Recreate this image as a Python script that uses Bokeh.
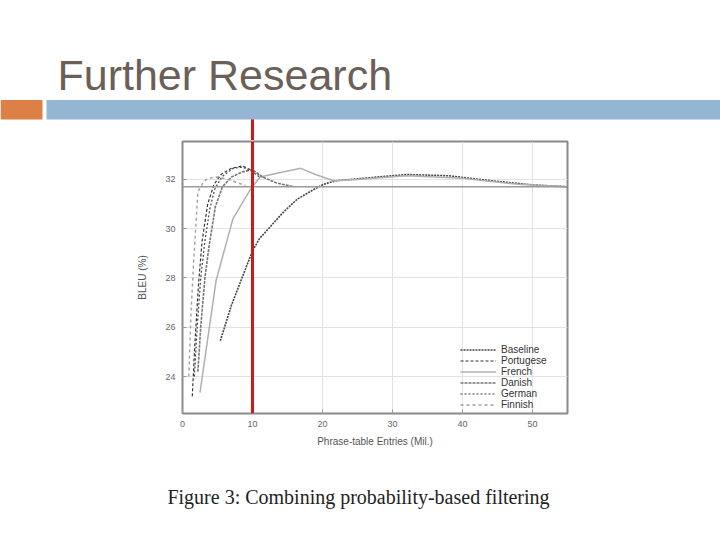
from bokeh.plotting import figure
from bokeh.layouts import column
from bokeh.models import Label, BoxAnnotation, Span, Legend, LegendItem, FixedTicker, Range1d
from bokeh.embed import file_html
from bokeh.resources import INLINE

# ---- data ----
baseline_x = [5.4, 7.0, 8.5, 10.0, 11.0, 12.6, 14.5, 16.4, 18.5, 20.1, 22.0, 26.0, 32.0, 38.0, 44.0, 50.0, 55.0]
baseline_y = [25.45, 26.9, 28.0, 29.1, 29.6, 30.1, 30.7, 31.2, 31.55, 31.8, 31.95, 32.05, 32.2, 32.15, 31.95, 31.78, 31.7]

portuguese_x = [1.4, 1.8, 2.3, 2.8, 3.6, 4.5, 5.5, 7.0, 8.6, 10.0, 11.5]
portuguese_y = [23.2, 25.5, 27.8, 29.5, 31.0, 31.8, 32.2, 32.45, 32.55, 32.35, 32.1]

french_x = [2.5, 4.8, 7.2, 9.7, 11.1, 13.5, 16.9, 19.0, 21.6, 25.0, 32.0, 40.0, 48.0, 55.0]
french_y = [23.35, 27.9, 30.4, 31.6, 32.1, 32.25, 32.45, 32.2, 31.95, 32.0, 32.15, 32.05, 31.8, 31.7]

danish_x = [2.2, 2.6, 3.2, 3.8, 4.7, 5.7, 7.0, 8.5, 10.0, 11.4, 13.5, 16.0]
danish_y = [24.2, 26.0, 28.0, 29.3, 30.9, 31.7, 32.1, 32.3, 32.4, 32.1, 31.85, 31.7]

german_x = [1.7, 2.1, 2.6, 3.2, 3.9, 4.6, 5.6, 7.2, 8.6, 10.0, 11.0]
german_y = [24.0, 26.0, 28.0, 29.5, 30.8, 31.6, 32.1, 32.45, 32.5, 32.3, 32.1]

finnish_x = [0.9, 1.2, 1.6, 2.2, 3.0, 3.7, 5.0, 6.5, 8.0, 9.0]
finnish_y = [24.0, 26.5, 28.7, 31.5, 31.9, 32.05, 32.1, 32.0, 31.85, 31.75]

reference_level = 31.7
marker_x = 10

x_ticks = [0, 10, 20, 30, 40, 50]
y_ticks = [24, 26, 28, 30, 32]

title_text = "Further Research"
caption_text = "Figure 3: Combining probability-based filtering"
x_label = "Phrase-table Entries (Mil.)"
y_label = "BLEU (%)"

W = 720
X0, X1 = 0, 55.0
Y0, Y1 = 22.5, 33.54
FRAME_L, FRAME_R = 182, 567
PPU = (FRAME_R - FRAME_L) / (X1 - X0)
RED = "#cc1a1a"

# ---------- top strip: title, bars, top of red marker ----------
TOP_H = 140
top = figure(width=W, height=TOP_H, output_backend="svg", toolbar_location=None,
             x_range=Range1d(X0 - FRAME_L / PPU, X0 + (W - FRAME_L) / PPU),
             y_range=Range1d(TOP_H, 0),
             min_border=0, x_axis_location=None, y_axis_location=None, frame_align=False)
top.outline_line_color = None
top.grid.visible = False
top.background_fill_color = "white"
top.border_fill_color = "white"
top.add_layout(Label(x=57, y=74, x_units="screen", y_units="data", text=title_text,
                     text_font="Liberation Sans", text_font_size="43px", text_color="#6b5f58",
                     text_baseline="alphabetic", text_align="left"))
top.add_layout(BoxAnnotation(left=0, right=42, top=99.5, bottom=119,
                             left_units="screen", right_units="screen",
                             fill_color="#dd8047", fill_alpha=1, line_color=None))
top.add_layout(BoxAnnotation(left=46, right=W, top=99.5, bottom=119,
                             left_units="screen", right_units="screen",
                             fill_color="#94b6d2", fill_alpha=1, line_color=None))
top.segment(x0=[marker_x], y0=[116], x1=[marker_x], y1=[TOP_H], line_color=RED, line_width=3)

# ---------- chart ----------
CH_H = 329
p = figure(width=W, height=CH_H, output_backend="svg", toolbar_location=None,
           x_range=Range1d(X0, X1), y_range=Range1d(Y0, Y1),
           min_border_left=FRAME_L, min_border_right=W - FRAME_R,
           min_border_top=1, min_border_bottom=CH_H - 1 - 272, frame_align=False)
p.background_fill_color = "white"
p.border_fill_color = "white"
p.outline_line_color = "#8a8a8a"
p.outline_line_width = 2

for ax in (p.xaxis[0], p.yaxis[0]):
    ax.axis_line_color = None
    ax.major_tick_in = 4
    ax.major_tick_out = 0
    ax.minor_tick_line_color = None
    ax.major_tick_line_color = "#999999"
    ax.major_label_text_font = "Liberation Sans"
    ax.major_label_text_font_size = "9px"
    ax.major_label_text_color = "#666666"
    ax.axis_label_text_font = "Liberation Sans"
    ax.axis_label_text_font_style = "normal"
    ax.axis_label_text_color = "#555555"
    ax.axis_label_text_font_size = "10px"

p.xaxis.ticker = FixedTicker(ticks=x_ticks)
p.yaxis.ticker = FixedTicker(ticks=y_ticks)
p.xaxis.axis_label = x_label
p.yaxis.axis_label = y_label
p.xaxis.major_label_standoff = 7
p.yaxis.major_label_standoff = 7
p.xaxis.axis_label_standoff = 6
p.yaxis.axis_label_standoff = 14

p.xgrid.ticker = FixedTicker(ticks=x_ticks)
p.ygrid.ticker = FixedTicker(ticks=y_ticks)
p.grid.grid_line_color = "#e2e2e2"
p.grid.grid_line_width = 1

p.add_layout(Span(location=reference_level, dimension="width", line_color="#9a9a9a", line_width=1.5))

r_base = p.line(baseline_x, baseline_y, line_color="#444444", line_width=1.6, line_dash="2 1")
r_port = p.line(portuguese_x, portuguese_y, line_color="#333333", line_width=1.2, line_dash="3 2")
r_fren = p.line(french_x, french_y, line_color="#b0b0b0", line_width=1.5)
r_dan = p.line(danish_x, danish_y, line_color="#777777", line_width=1.6, line_dash="3 1")
r_ger = p.line(german_x, german_y, line_color="#444444", line_width=1.2, line_dash="2 2")
r_fin = p.line(finnish_x, finnish_y, line_color="#a0a0a0", line_width=1.4, line_dash="3 3")

p.add_layout(Span(location=marker_x, dimension="height", line_color=RED, line_width=3, level="overlay"))

legend = Legend(items=[
    LegendItem(label="Baseline", renderers=[r_base]),
    LegendItem(label="Portugese", renderers=[r_port]),
    LegendItem(label="French", renderers=[r_fren]),
    LegendItem(label="Danish", renderers=[r_dan]),
    LegendItem(label="German", renderers=[r_ger]),
    LegendItem(label="Finnish", renderers=[r_fin]),
], location=(278, 3))
legend.background_fill_alpha = 0
legend.border_line_color = None
legend.label_text_font = "Liberation Sans"
legend.label_text_font_size = "10px"
legend.label_text_color = "#333333"
legend.label_height = 11
legend.glyph_height = 11
legend.glyph_width = 36
legend.label_standoff = 5
legend.spacing = 0
legend.padding = 1
legend.margin = 0
p.add_layout(legend)

# ---------- bottom strip: caption ----------
BOT_H = 540 - TOP_H - CH_H
bot = figure(width=W, height=BOT_H, output_backend="svg", toolbar_location=None,
             x_range=Range1d(0, W), y_range=Range1d(BOT_H, 0),
             min_border=0, x_axis_location=None, y_axis_location=None, frame_align=False)
bot.outline_line_color = None
bot.grid.visible = False
bot.background_fill_color = "white"
bot.border_fill_color = "white"
bot.add_layout(Label(x=358, y=496 - (TOP_H + CH_H), x_units="screen", y_units="data", text=caption_text,
                     text_font="Liberation Serif", text_font_size="20px", text_color="#222222",
                     text_baseline="alphabetic", text_align="center"))

layout = column(top, p, bot, spacing=0)
open("out.html", "w").write(file_html(layout, INLINE))
